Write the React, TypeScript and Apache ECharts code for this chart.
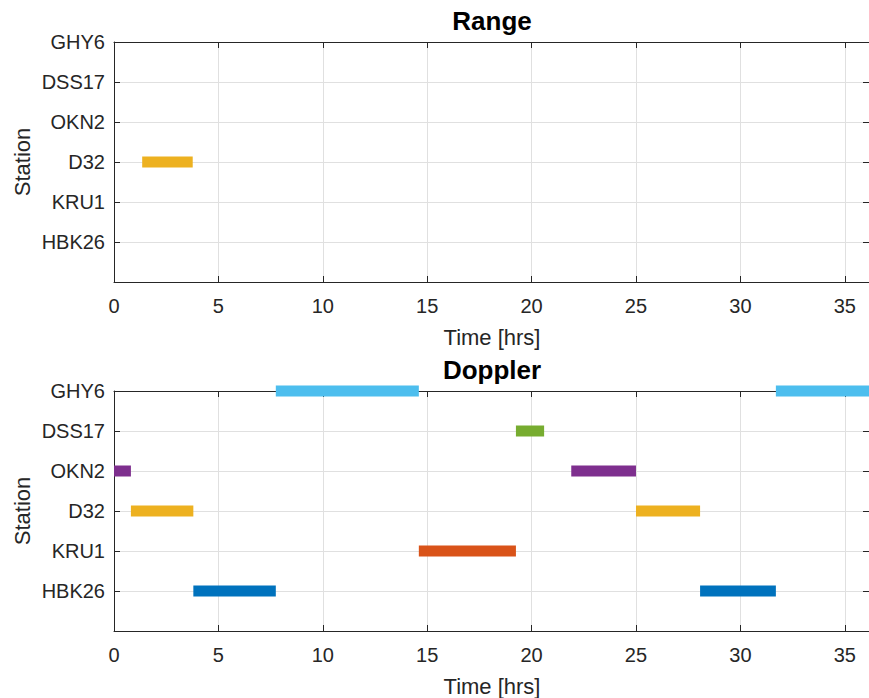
import React, { useEffect, useRef } from "react";
import * as echarts from "echarts";

// Stations from bottom (1) to top (6) of each panel
const stations = ["HBK26", "KRU1", "D32", "OKN2", "DSS17", "GHY6"];
const stationColors = ["#0072BD", "#D95319", "#EDB120", "#7E2F8E", "#77AC30", "#4DBEEE"];

// Range passes
const rangeStation = ["D32"];
const rangeStart = [1.35];
const rangeEnd = [3.77];

// Doppler passes
const dopplerStation = ["OKN2", "D32", "HBK26", "GHY6", "KRU1", "DSS17", "OKN2", "D32", "HBK26", "GHY6"];
const dopplerStart = [0, 0.81, 3.8, 7.75, 14.6, 19.25, 21.9, 25.0, 28.07, 31.7];
const dopplerEnd = [0.81, 3.8, 7.75, 14.6, 19.25, 20.6, 25.0, 28.07, 31.7, 36.16];

const xMax = 36.16;
const FONT = "'Liberation Sans', Arial, Helvetica, sans-serif";
const AX = "#262626";

const GRID_LEFT = 114;
const GRID_WIDTH = 756;
const GRID_H = 240;
const GRID_TOPS = [42, 391];

function passSeries(names: string[], starts: number[], ends: number[], gridIdx: number) {
  return names.map((name, i) => {
    const yi = stations.indexOf(name) + 1;
    return {
      type: "line",
      name,
      xAxisIndex: gridIdx * 2,
      yAxisIndex: gridIdx * 2,
      data: [
        [starts[i], yi],
        [ends[i], yi],
      ],
      showSymbol: false,
      symbol: "none",
      clip: false,
      silent: true,
      lineStyle: { width: 11, color: stationColors[yi - 1], cap: "butt" },
      z: 5,
    };
  });
}

export default function App() {
  const ref = useRef<HTMLDivElement>(null);

  useEffect(() => {
    if (!ref.current) return;
    const chart = echarts.init(ref.current, undefined, { renderer: "svg" });

    const boxLine = { show: true, onZero: false, lineStyle: { color: AX, width: 1 } };
    const innerTick = { show: true, inside: true, length: 6, lineStyle: { color: AX } };

    const xAxes: any[] = [];
    const yAxes: any[] = [];
    GRID_TOPS.forEach((_, g) => {
      // bottom axis with labels and vertical grid lines
      xAxes.push({
        type: "value",
        gridIndex: g,
        min: 0,
        max: xMax,
        interval: 5,
        position: "bottom",
        axisLine: boxLine,
        axisTick: innerTick,
        axisLabel: {
          show: true,
          margin: 14,
          color: AX,
          fontSize: 20,
          fontFamily: FONT,
          showMaxLabel: false,
        },
        splitLine: { show: true, lineStyle: { color: "#e0e0e0", width: 1 } },
      });
      // top box edge
      xAxes.push({
        type: "value",
        gridIndex: g,
        min: 0,
        max: xMax,
        interval: 5,
        position: "top",
        axisLine: boxLine,
        axisTick: innerTick,
        axisLabel: { show: false },
        splitLine: { show: false },
      });
      // left axis with station names
      yAxes.push({
        type: "value",
        gridIndex: g,
        min: 0,
        max: 6,
        interval: 1,
        position: "left",
        axisLine: boxLine,
        axisTick: innerTick,
        axisLabel: {
          show: true,
          margin: 9,
          color: AX,
          fontSize: 20,
          fontFamily: FONT,
          formatter: (v: number) => (v >= 1 && v <= 6 ? stations[Math.round(v) - 1] : ""),
        },
        splitLine: { show: true, lineStyle: { color: "#e0e0e0", width: 1 } },
      });
      // right box edge
      yAxes.push({
        type: "value",
        gridIndex: g,
        min: 0,
        max: 6,
        interval: 1,
        position: "right",
        axisLine: boxLine,
        axisTick: innerTick,
        axisLabel: { show: false },
        splitLine: { show: false },
      });
    });

    const titles = ["Range", "Doppler"];
    const graphics: any[] = [];
    GRID_TOPS.forEach((top, g) => {
      const cx = GRID_LEFT + GRID_WIDTH / 2;
      graphics.push({
        type: "text",
        x: cx,
        y: top - 21,
        style: {
          text: titles[g],
          textAlign: "center",
          textVerticalAlign: "middle",
          font: `bold 26px ${FONT}`,
          fill: "#000000",
        },
      });
      graphics.push({
        type: "text",
        x: cx,
        y: top + GRID_H + 55,
        style: {
          text: "Time [hrs]",
          textAlign: "center",
          textVerticalAlign: "middle",
          font: `22px ${FONT}`,
          fill: AX,
        },
      });
      graphics.push({
        type: "text",
        x: 22,
        y: top + GRID_H / 2,
        rotation: Math.PI / 2,
        style: {
          text: "Station",
          textAlign: "center",
          textVerticalAlign: "middle",
          font: `22px ${FONT}`,
          fill: AX,
        },
      });
    });

    chart.setOption({
      animation: false,
      backgroundColor: "#ffffff",
      grid: GRID_TOPS.map((top) => ({
        left: GRID_LEFT,
        top,
        width: GRID_WIDTH,
        height: GRID_H,
        containLabel: false,
      })),
      xAxis: xAxes,
      yAxis: yAxes,
      series: [
        ...passSeries(rangeStation, rangeStart, rangeEnd, 0),
        ...passSeries(dopplerStation, dopplerStart, dopplerEnd, 1),
      ],
      graphic: graphics,
    });

    return () => chart.dispose();
  }, []);

  return (
    <div
      ref={ref}
      style={{ position: "fixed", left: 0, top: 0, width: 869, height: 698, background: "#fff" }}
    />
  );
}
